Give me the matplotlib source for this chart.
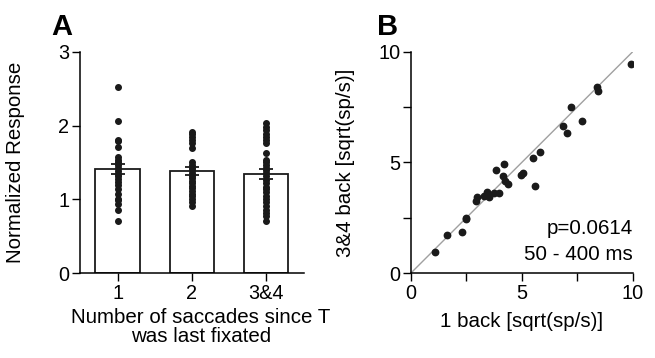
import numpy as np
import matplotlib.pyplot as plt

plt.rcParams['font.family'] = ['Liberation Sans', 'DejaVu Sans']

# Panel A data
groups = ['1', '2', '3&4']
bar_means = [1.41, 1.385, 1.34]
bar_sem = [0.07, 0.055, 0.07]
dots_1 = [2.52, 2.06, 1.81, 1.79, 1.71, 1.57, 1.53, 1.50, 1.46, 1.42, 1.39, 1.35,
          1.32, 1.28, 1.24, 1.19, 1.14, 1.08, 1.01, 0.99, 0.94, 0.86, 0.71]
dots_2 = [1.91, 1.88, 1.84, 1.80, 1.77, 1.70, 1.51, 1.47, 1.43, 1.40, 1.36, 1.32,
          1.29, 1.25, 1.22, 1.18, 1.15, 1.11, 1.08, 1.04, 1.00, 0.97, 0.91]
dots_3 = [2.03, 1.98, 1.94, 1.89, 1.85, 1.80, 1.77, 1.63, 1.54, 1.51, 1.47, 1.43,
          1.40, 1.36, 1.32, 1.26, 1.22, 1.17, 1.14, 1.10, 1.05, 1.00, 0.96, 0.91,
          0.86, 0.82, 0.77, 0.71]

# Panel B data
one_back = [1.11, 1.64, 2.33, 2.48, 2.49, 2.93, 2.97, 3.30, 3.45, 3.53, 3.75, 3.99,
            3.83, 4.14, 4.19, 4.26, 4.40, 4.97, 5.05, 5.50, 5.59, 5.84, 6.86, 7.06,
            7.21, 7.72, 8.39, 8.42, 9.92]
three_four_back = [0.95, 1.74, 1.86, 2.45, 2.50, 3.25, 3.44, 3.50, 3.65, 3.46, 3.61, 3.61,
                   4.66, 4.41, 4.93, 4.15, 4.02, 4.44, 4.53, 5.22, 3.95, 5.46, 6.66, 6.35,
                   7.52, 6.89, 8.41, 8.24, 9.46]

fs = 14.8
tfs = 14.3

fig = plt.figure(figsize=(6.55, 3.58), dpi=100)
axA = fig.add_axes([0.122, 0.2366, 0.342, 0.619])
axB = fig.add_axes([0.627, 0.2366, 0.339, 0.619])

for ax in (axA, axB):
    ax.spines['top'].set_visible(False)
    ax.spines['right'].set_visible(False)
    ax.spines['left'].set_linewidth(1.1)
    ax.spines['bottom'].set_linewidth(1.1)
    ax.tick_params(direction='out', length=5.5, width=1.0, labelsize=tfs, pad=2)

# Panel A
x = np.arange(1, len(groups) + 1)
axA.bar(x, bar_means, width=0.6, color='white', edgecolor='#1a1a1a', linewidth=1.3, zorder=1)
for xi, vals in zip(x, [dots_1, dots_2, dots_3]):
    axA.plot([xi] * len(vals), vals, 'o', color='#1a1a1a', markersize=4.0, zorder=2)
axA.errorbar(x, bar_means, yerr=bar_sem, fmt='none', ecolor='#1a1a1a', elinewidth=1.3,
             capsize=5, capthick=1.3, zorder=3)
axA.set_xlim(0.49, 3.51)
axA.set_ylim(0, 3)
axA.set_yticks([0, 1, 2, 3])
axA.set_xticks(x)
axA.set_xticklabels(groups)
axA.set_ylabel('Normalized Response', fontsize=fs)
axA.yaxis.set_label_coords(-0.245, 0.5)
axA.set_xlabel('Number of saccades since T\nwas last fixated', fontsize=fs, linespacing=1.05)
axA.xaxis.set_label_coords(0.54, -0.155)
fig.text(0.079, 0.965, 'A', fontsize=21, fontweight='bold', va='top', ha='left')

# Panel B
axB.plot([0, 10], [0, 10], color='#a0a0a0', linewidth=1.0, zorder=1)
axB.plot(one_back, three_four_back, 'o', color='#1a1a1a', markersize=4.6, zorder=2)
axB.set_xlim(0, 10)
axB.set_ylim(0, 10)
axB.set_xticks([0, 2.5, 5, 7.5, 10])
axB.set_xticklabels(['0', '', '5', '', '10'])
axB.set_yticks([0, 2.5, 5, 7.5, 10])
axB.set_yticklabels(['0', '', '5', '', '10'])
axB.set_xlabel('1 back [sqrt(sp/s)]', fontsize=fs)
axB.xaxis.set_label_coords(0.5, -0.175)
axB.set_ylabel('3&4 back [sqrt(sp/s)]', fontsize=fs)
axB.yaxis.set_label_coords(-0.25, 0.5)
axB.text(10, 2.0, 'p=0.0614', fontsize=fs, ha='right', va='center')
axB.text(10, 0.85, '50 - 400 ms', fontsize=fs, ha='right', va='center')
fig.text(0.575, 0.965, 'B', fontsize=21, fontweight='bold', va='top', ha='left')

fig.savefig('out.png', dpi=100)
